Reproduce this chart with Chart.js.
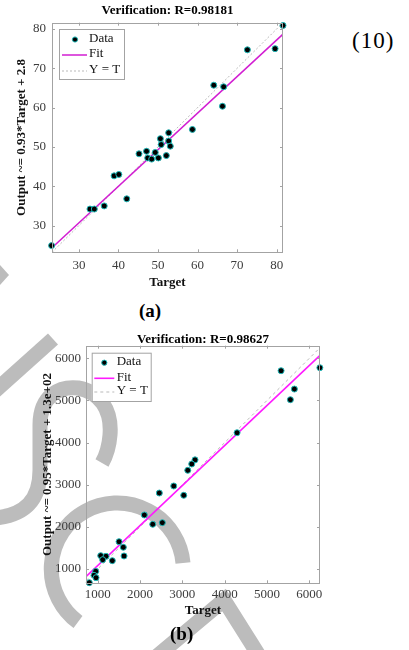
<!DOCTYPE html>
<html>
<head>
<meta charset="utf-8">
<script src="https://cdn.jsdelivr.net/npm/chart.js@4.4.1/dist/chart.umd.min.js"></script>
<style>
  body { margin: 0; background: #fff; width: 409px; height: 650px; overflow: hidden; position: relative; font-family: "Liberation Serif", serif; }
  #wm { position: absolute; left: 0; top: 0; z-index: 0; }
  canvas { position: absolute; z-index: 1; }
  #chartA { left: 0; top: 0; }
  #chartB { left: 0; top: 330px; }
  .lbl { position: absolute; z-index: 2; color: #000; white-space: nowrap; }
</style>
</head>
<body>
<svg id="wm" width="409" height="650" fill="none" stroke="#bcbcbc" stroke-width="15">
  <polygon points="0,265 9,275 0,285" fill="#bcbcbc" stroke="none"/>
  <path d="M -5 391 L 53 339"/>
  <path d="M -5 518 C 25 515, 40 500, 40 470 L 40 425 C 40 395, 60 386, 78 388 C 100 392, 112 410, 110 435 C 109 448, 106 456, 102 463"/>
  <path d="M 183 563 A 66 66 0 1 0 78 622"/>
  <path d="M 150 662 L 224 600 L 263 662" stroke-linejoin="miter"/>
</svg>
<canvas id="chartA" width="300" height="300"></canvas>
<canvas id="chartB" width="340" height="300"></canvas>
<div class="lbl" style="left:352px;top:28px;font-size:23px;letter-spacing:1px;">(10)</div>
<div class="lbl" style="left:139px;top:300px;font-size:19px;font-weight:bold;">(a)</div>
<div class="lbl" style="left:170px;top:623px;font-size:19px;font-weight:bold;">(b)</div>
<script>
// ---- chart (a) ----
const targetA = [81.6, 72.6, 79.6, 64.1, 66.6, 66.3, 58.7, 52.7, 50.6, 52.7, 50.8, 53.1, 45.2,
  47.1, 49.3, 47.4, 48.4, 50.1, 52.1, 38.9, 40.1, 32.8, 33.9, 36.4, 42.1, 23.1];
const outputA = [80.9, 74.7, 75.0, 65.7, 65.3, 60.35, 54.45, 53.6, 52.1, 51.5, 50.6, 50.2, 48.25,
  48.9, 48.6, 47.2, 46.9, 47.2, 47.8, 42.65, 43.0, 34.2, 34.2, 35.0, 36.8, 24.9];
const fitA = [0.93, 2.8];           // slope, intercept
const limitsA = [23.2, 81.6];
const ticksA = [30, 40, 50, 60, 70, 80];

// ---- chart (b) ----
const targetB = [5333, 6250, 5648, 5553, 4293, 3300, 3222, 3128, 2797, 2456, 3033, 2102, 2300,
  2527, 1504, 1605, 1622, 1345, 1071, 1196, 1118, 953, 913, 960, 801];
const outputB = [5706, 5777, 5271, 5018, 4234, 3590, 3492, 3342, 2970, 2803, 2749, 2282, 2061,
  2099, 1648, 1515, 1309, 1197, 1316, 1301, 1220, 945, 850, 793, 675];
const fitB = [0.95, 130];
const limitsBX = [723, 6253];
const limitsBY = [660, 6300];
const ticksB = [1000, 2000, 3000, 4000, 5000, 6000];

const SERIF = '"Liberation Serif", "Times New Roman", serif';
const AXIS_GREY = '#a3a3a3';
const TICK_TEXT = '#3c3c3c';

const framePlugin = {
  id: 'frame',
  afterDraw(chart, args, o) {
    const { ctx, chartArea: a, scales: { x, y } } = chart;
    ctx.save();
    ctx.strokeStyle = AXIS_GREY;
    ctx.lineWidth = 1;
    ctx.strokeRect(Math.round(a.left) + 0.5, Math.round(a.top) + 0.5,
      Math.round(a.width) - 1, Math.round(a.height) - 1);
    ctx.beginPath();
    x.ticks.forEach(t => {
      const p = Math.round(x.getPixelForValue(t.value)) + 0.5;
      ctx.moveTo(p, a.bottom); ctx.lineTo(p, a.bottom - 3);
      ctx.moveTo(p, a.top); ctx.lineTo(p, a.top + 3);
    });
    y.ticks.forEach(t => {
      const p = Math.round(y.getPixelForValue(t.value)) + 0.5;
      ctx.moveTo(a.left, p); ctx.lineTo(a.left + 3, p);
      ctx.moveTo(a.right, p); ctx.lineTo(a.right - 3, p);
    });
    ctx.stroke();

    // title
    ctx.fillStyle = '#000';
    ctx.font = 'bold 13px ' + SERIF;
    ctx.textAlign = 'center';
    ctx.textBaseline = 'middle';
    ctx.fillText(o.title, (a.left + a.right) / 2, o.titleY);

    // legend box
    const L = o.legend;
    ctx.fillStyle = '#fff';
    ctx.fillRect(L.x, L.y, L.w, L.h);
    ctx.strokeStyle = AXIS_GREY;
    ctx.strokeRect(L.x + 0.5, L.y + 0.5, L.w, L.h);
    ctx.font = '13px ' + SERIF;
    ctx.textAlign = 'left';
    chart.data.datasets.forEach((ds, i) => {
      const ry = L.y + L.rows[i];
      if (i === 0) {
        ctx.beginPath();
        ctx.arc(L.x + L.marker, ry, 2.6, 0, Math.PI * 2);
        ctx.fillStyle = ds.pointBackgroundColor;
        ctx.fill();
        ctx.strokeStyle = ds.pointBorderColor;
        ctx.lineWidth = 1;
        ctx.stroke();
      } else {
        ctx.beginPath();
        ctx.setLineDash(ds.borderDash || []);
        ctx.strokeStyle = ds.borderColor;
        ctx.lineWidth = ds.borderWidth;
        ctx.moveTo(L.x + L.line0, ry); ctx.lineTo(L.x + L.line1, ry);
        ctx.stroke();
        ctx.setLineDash([]);
      }
      ctx.fillStyle = '#111';
      ctx.fillText(ds.label, L.x + L.text, ry - 1);
    });
    ctx.restore();
  }
};

function makeChart(id, c) {
  const pts = c.target.map((t, i) => ({ x: t, y: c.output[i] }));
  const fitPts = [c.xlim[0], c.xlim[1]].map(v => ({ x: v, y: c.fit[0] * v + c.fit[1] }));
  const idLo = Math.max(c.xlim[0], c.ylim[0]), idHi = Math.min(c.xlim[1], c.ylim[1]);
  const idPts = [{ x: idLo, y: idLo }, { x: idHi, y: idHi }];
  const tickFont = { family: SERIF, size: 13 };
  return new Chart(document.getElementById(id), {
    type: 'scatter',
    data: {
      datasets: [
        { label: 'Data', data: pts, pointRadius: 3, pointBackgroundColor: '#000',
          pointBorderColor: '#1fb8b8', pointBorderWidth: 1, order: 0, clip: false },
        { type: 'line', label: 'Fit', data: fitPts, borderColor: c.fitColor, borderWidth: c.fitWidth,
          pointRadius: 0, order: 1 },
        { type: 'line', label: 'Y = T', data: idPts, borderColor: '#b9b9b9', borderWidth: 1,
          borderDash: c.dash, pointRadius: 0, order: 2 },
      ],
    },
    options: {
      responsive: false,
      animation: false,
      layout: { padding: c.padding },
      plugins: {
        legend: { display: false },
        tooltip: { enabled: false },
        frame: { title: c.title, titleY: c.titleY, legend: c.legend },
      },
      scales: {
        x: {
          type: 'linear', min: c.xlim[0], max: c.xlim[1],
          grid: { display: false, drawTicks: false },
          border: { display: false },
          ticks: { color: TICK_TEXT, font: tickFont, padding: c.xTickPad, maxRotation: 0,
            callback: v => String(v) },
          afterBuildTicks: s => { s.ticks = c.ticks.map(v => ({ value: v })); },
          afterFit: s => { s.height = c.xHeight; },
          title: { display: true, text: 'Target', color: '#111',
            font: { family: SERIF, size: 13, weight: 'bold' }, padding: { top: 0, bottom: c.xTitlePad } },
        },
        y: {
          type: 'linear', min: c.ylim[0], max: c.ylim[1],
          grid: { display: false, drawTicks: false },
          border: { display: false },
          ticks: { color: TICK_TEXT, font: tickFont, padding: c.yTickPad, callback: v => String(v) },
          afterBuildTicks: s => { s.ticks = c.ticks.map(v => ({ value: v })); },
          afterFit: s => { s.width = c.yWidth; },
          title: { display: true, text: c.yTitle, color: '#111',
            font: { family: SERIF, size: 13, weight: 'bold' }, padding: { top: c.yTitlePad, bottom: 0 } },
        },
      },
    },
    plugins: [framePlugin],
  });
}

makeChart('chartA', {
  target: targetA, output: outputA, fit: fitA, xlim: limitsA, ylim: limitsA, ticks: ticksA,
  title: 'Verification: R=0.98181', titleY: 11,
  yTitle: 'Output ~= 0.93*Target + 2.8',
  fitColor: '#d21ed2', fitWidth: 1.5, dash: [2, 2],
  padding: { left: 0, top: 22.7, right: 17, bottom: 0 },
  yWidth: 52, xHeight: 47.7, xTickPad: 5, yTickPad: 6, xTitlePad: 10, yTitlePad: 14,
  legend: { x: 59, y: 29, w: 65, h: 50, rows: [10.5, 26, 42], marker: 16, line0: 3, line1: 28, text: 30 },
});

makeChart('chartB', {
  target: targetB, output: outputB, fit: fitB, xlim: limitsBX, ylim: limitsBY, ticks: ticksB,
  title: 'Verification: R=0.98627', titleY: 9.5,
  yTitle: 'Output ~= 0.95*Target + 1.3e+02',
  fitColor: '#ff1aff', fitWidth: 1.6, dash: [3, 3],
  padding: { left: 0, top: 15.7, right: 20, bottom: 0 },
  yWidth: 86, xHeight: 46.7, xTickPad: 3.5, yTickPad: 5, xTitlePad: 12, yTitlePad: 40,
  legend: { x: 91.7, y: 22.7, w: 59, h: 48.3, rows: [10, 25.6, 39.3], marker: 12.6, line0: 2.6, line1: 22.6, text: 25 },
});
</script>
</body>
</html>
